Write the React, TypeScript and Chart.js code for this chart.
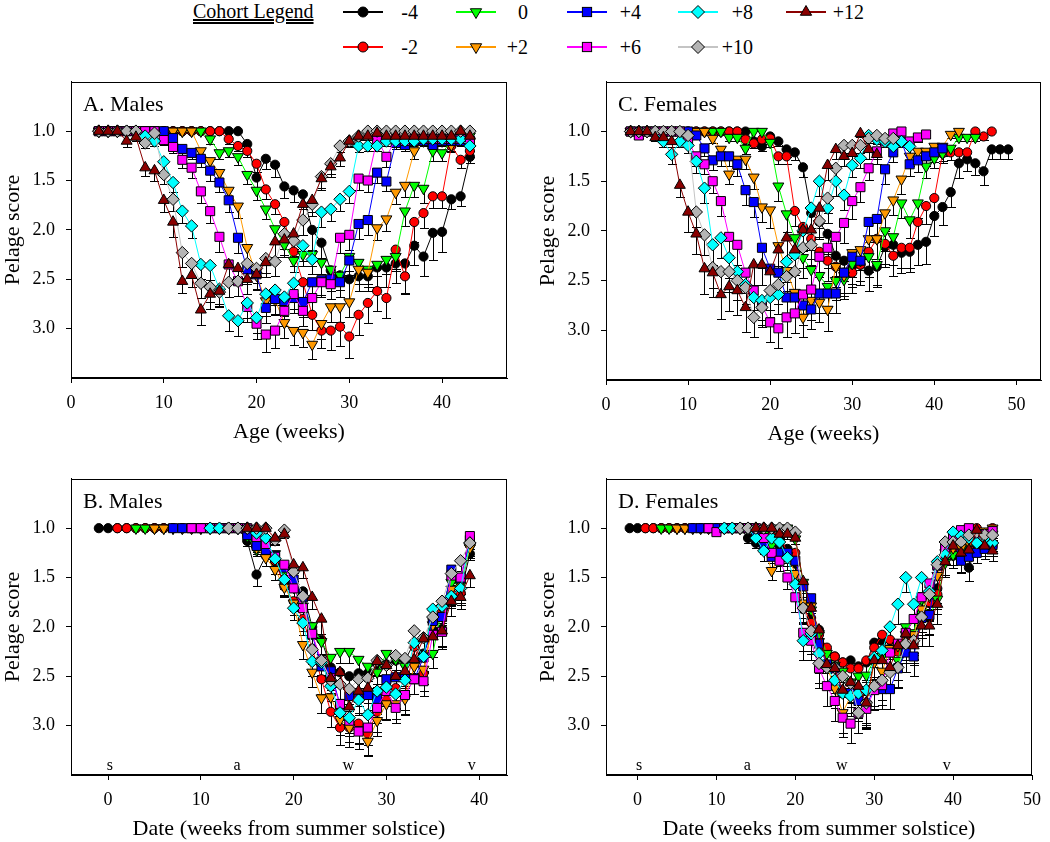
import React, { useEffect, useRef } from 'react';
import { Chart, registerables } from 'chart.js';

Chart.register(...registerables);

const FONT = '"Liberation Serif", "Times New Roman", Times, serif';

// ---------- cohorts ----------
const cohortLabels = ['-4', '-2', '0', '+2', '+4', '+6', '+8', '+10', '+12'];
const cohortOffsets = [-4, -2, 0, 2, 4, 6, 8, 10, 12];
const firstAge = 3;

// ---------- males: pelage score by age (weeks 3..43) ----------
const maleM4 = [1, 1, 1, 1, 1, 1, 1, 1, 1, 1, 1, 1, 1, 1, 1, 1, 1.13, 1.47, 1.28, 1.34, 1.56, 1.6, 1.64, 2.0, 2.13, 2.41, 2.46, 2.5, 2.47, 2.47, 2.38, 2.38, 2.34, 2.34, 2.16, 2.27, 2.03, 2.02, 1.69, 1.66, 1.26];
const maleM2 = [1, 1, 1, 1, 1, 1, 1, 1, 1, 1, 1, 1, 1, 1, 1.08, 1.15, 1.2, 1.33, 1.59, 1.74, 1.92, 2.22, 2.53, 2.86, 3.02, 3.02, 2.98, 3.08, 2.86, 2.74, 2.62, 2.69, 2.2, 2.47, 1.92, 1.83, 1.66, 1.66, 1.15, 1.29, 1.2];
const maleP0 = [1, 1, 1, 1, 1, 1, 1, 1, 1, 1, 1, 1, 1.08, 1.22, 1.2, 1.26, 1.44, 1.6, 1.79, 1.99, 2.15, 2.31, 2.25, 2.25, 2.33, 2.4, 2.46, 2.27, 2.33, 2.4, 2.35, 2.3, 2.27, 1.81, 1.55, 1.58, 1.2, 1.22, 1.1, 1.05, 1.05];
const maleP2 = [1, 1, 1, 1, 1, 1, 1, 1, 1, 1, 1, 1.2, 1.3, 1.42, 1.6, 1.76, 2.18, 2.46, 2.72, 2.71, 2.94, 3.02, 3.04, 3.16, 2.95, 2.78, 2.78, 2.73, 2.4, 2.43, 1.98, 1.89, 1.62, 1.55, 1.2, 1.1, 1.1, 1.1, 1.14, 1.05, 1.1];
const maleP4 = [1, 1, 1, 1, 1, 1, 1, 1, 1.07, 1.18, 1.22, 1.28, 1.4, 1.52, 1.7, 2.08, 2.4, 2.45, 2.79, 2.7, 2.72, 2.69, 2.73, 2.53, 2.51, 2.5, 2.53, 2.31, 1.94, 1.9, 1.42, 1.51, 1.12, 1.14, 1.1, 1.1, 1.14, 1.1, 1.1, 1.1, 1.1];
const maleP6 = [1, 1, 1, 1, 1, 1, 1, 1.09, 1.16, 1.29, 1.37, 1.61, 1.81, 2.07, 2.35, 2.52, 2.78, 2.95, 3.06, 3.02, 2.82, 2.65, 2.82, 2.69, 2.53, 2.55, 2.08, 2.05, 1.48, 1.5, 1.08, 1.26, 1.08, 1.1, 1.08, 1.08, 1.08, 1.08, 1.08, 1.08, 1.1];
const maleP8 = [1, 1, 1, 1, 1, 1.05, 1.1, 1.31, 1.52, 1.81, 1.96, 2.35, 2.36, 2.6, 2.87, 2.92, 2.74, 2.89, 2.65, 2.61, 2.68, 2.54, 2.16, 2.3, 1.82, 1.79, 1.69, 1.61, 1.15, 1.15, 1.15, 1.1, 1.1, 1.1, 1.1, 1.08, 1.08, 1.08, 1.08, 1.08, 1.15];
const maleP10 = [1, 1, 1, 1, 1, 1.12, 1.02, 1.44, 1.69, 2.23, 2.34, 2.54, 2.58, 2.63, 2.53, 2.52, 2.34, 2.39, 2.29, 2.32, 2.04, 2.11, 1.9, 1.74, 1.46, 1.33, 1.15, 1.1, 1.05, 1, 1, 1, 1, 1, 1, 1, 1, 1, 1, 1, 1];
const maleP12 = [1, 1, 1, 1.1, 1.06, 1.37, 1.4, 1.7, 1.92, 2.52, 2.46, 2.81, 2.65, 2.62, 2.35, 2.39, 2.5, 2.45, 2.33, 2.12, 2.1, 2.04, 1.74, 1.7, 1.48, 1.36, 1.27, 1.1, 1.05, 1.05, 1.02, 1.05, 1.05, 1.05, 1.05, 1.05, 1.05, 1.05, 1.05, 1.0, 1.05];

// males: standard errors
const maleErrM4 = [0, 0, 0, 0, 0, 0, 0, 0, 0, 0, 0, 0, 0, 0, 0, 0, 0.05, 0.12, 0.1, 0.12, 0.12, 0.12, 0.15, 0.2, 0.15, 0.15, 0.15, 0.2, 0.15, 0.15, 0.2, 0.2, 0.2, 0.3, 0.2, 0.2, 0.27, 0.2, 0.1, 0.1, 0.06];
const maleErrM2 = [0, 0, 0, 0, 0, 0, 0, 0, 0, 0, 0, 0, 0, 0, 0.05, 0.05, 0.06, 0.08, 0.1, 0.1, 0.12, 0.15, 0.15, 0.15, 0.18, 0.2, 0.2, 0.22, 0.2, 0.2, 0.2, 0.2, 0.2, 0.18, 0.2, 0.15, 0.12, 0.12, 0.06, 0.08, 0.06];
const maleErrP0 = [0, 0, 0, 0, 0, 0, 0, 0, 0, 0, 0, 0, 0.05, 0.06, 0.06, 0.08, 0.1, 0.1, 0.1, 0.12, 0.12, 0.12, 0.12, 0.12, 0.12, 0.15, 0.15, 0.15, 0.15, 0.15, 0.12, 0.15, 0.15, 0.15, 0.12, 0.15, 0.1, 0.08, 0.06, 0.05, 0.05];
const maleErrP2 = [0, 0, 0, 0, 0, 0, 0, 0, 0, 0, 0, 0.06, 0.08, 0.1, 0.1, 0.12, 0.15, 0.15, 0.15, 0.15, 0.15, 0.15, 0.15, 0.15, 0.15, 0.15, 0.15, 0.15, 0.15, 0.15, 0.12, 0.12, 0.12, 0.12, 0.08, 0.05, 0.05, 0.05, 0.06, 0.05, 0.05];
const maleErrP4 = [0, 0, 0, 0, 0, 0, 0, 0, 0.05, 0.06, 0.06, 0.08, 0.1, 0.1, 0.12, 0.15, 0.15, 0.15, 0.15, 0.15, 0.15, 0.15, 0.15, 0.15, 0.15, 0.12, 0.15, 0.15, 0.15, 0.15, 0.1, 0.1, 0.06, 0.06, 0.05, 0.05, 0.05, 0.05, 0.05, 0.05, 0.05];
const maleErrP6 = [0, 0, 0, 0, 0, 0, 0, 0.05, 0.06, 0.08, 0.1, 0.12, 0.12, 0.15, 0.15, 0.15, 0.15, 0.15, 0.18, 0.18, 0.15, 0.15, 0.15, 0.15, 0.15, 0.15, 0.15, 0.15, 0.12, 0.12, 0.06, 0.1, 0.05, 0.05, 0.05, 0.05, 0.05, 0.05, 0.05, 0.05, 0.05];
const maleErrP8 = [0, 0, 0, 0, 0, 0.04, 0.05, 0.1, 0.1, 0.12, 0.12, 0.15, 0.15, 0.15, 0.15, 0.15, 0.15, 0.15, 0.15, 0.15, 0.15, 0.15, 0.15, 0.15, 0.15, 0.12, 0.12, 0.12, 0.06, 0.05, 0.05, 0.05, 0.05, 0.05, 0.05, 0.05, 0.05, 0.05, 0.05, 0.05, 0.05];
const maleErrP10 = [0, 0, 0, 0, 0, 0.05, 0.02, 0.1, 0.12, 0.15, 0.15, 0.15, 0.15, 0.15, 0.15, 0.15, 0.15, 0.15, 0.15, 0.15, 0.15, 0.15, 0.15, 0.12, 0.12, 0.1, 0.06, 0.05, 0.04, 0, 0, 0, 0, 0, 0, 0, 0, 0, 0, 0, 0];
const maleErrP12 = [0, 0, 0, 0.06, 0.04, 0.08, 0.1, 0.12, 0.15, 0.12, 0.12, 0.15, 0.15, 0.15, 0.15, 0.15, 0.15, 0.15, 0.15, 0.15, 0.15, 0.15, 0.15, 0.12, 0.12, 0.1, 0.08, 0.06, 0.04, 0.04, 0.04, 0.04, 0.04, 0.04, 0.04, 0.04, 0.04, 0.04, 0.04, 0.04, 0.04];

// ---------- females: pelage score by age (weeks 3..) ----------
const femM4 = [1, 1, 1, 1, 1, 1, 1, 1, 1, 1, 1, 1, 1, 1, 1, 1.1, 1.15, 1.05, 1.1, 1.18, 1.21, 1.36, 1.82, 1.91, 2.03, 2.25, 2.3, 2.36, 2.34, 2.4, 2.36, 2.16, 2.14, 2.22, 2.21, 2.14, 2.11, 1.85, 1.76, 1.61, 1.32, 1.28, 1.32, 1.4, 1.18, 1.18, 1.18];
const femM2 = [1, 1, 1, 1, 1, 1, 1, 1, 1, 1, 1, 1, 1, 1, 1.08, 1.12, 1.08, 1.07, 1.25, 1.25, 1.8, 1.96, 2.08, 2.21, 2.3, 2.36, 2.42, 2.42, 2.34, 2.21, 2.08, 2.13, 2.25, 2.17, 2.17, 1.91, 1.75, 1.67, 1.22, 1.21, 1.21, 1.21, 1.0, 1.05, 1.0];
const femP0 = [1, 1, 1, 1, 1, 1, 1, 1, 1, 1, 1, 1, 1.06, 1.06, 1.17, 1.0, 1.0, 1.11, 1.55, 1.83, 2.07, 2.27, 2.39, 2.45, 2.56, 2.5, 2.49, 2.33, 2.3, 2.26, 2.34, 2.0, 2.06, 1.72, 1.89, 1.72, 1.35, 1.27, 1.22, 1.17, 1.06, 1.06, 1.06];
const femP2 = [1, 1, 1, 1, 1, 1, 1, 1, 1, 1, 1.07, 1.18, 1.43, 1.28, 1.28, 1.46, 1.76, 1.79, 2.15, 2.4, 2.62, 2.87, 2.7, 2.72, 2.79, 2.36, 2.45, 2.22, 2.19, 2.08, 2.08, 1.82, 1.69, 1.48, 1.25, 1.2, 1.2, 1.15, 1.15, 1.03, 1.0];
const femP4 = [1, 1, 1, 1, 1, 1, 1, 1, 1.04, 1.17, 1.29, 1.25, 1.25, 1.33, 1.59, 1.71, 2.17, 2.38, 2.42, 2.67, 2.67, 2.75, 2.79, 2.63, 2.63, 2.63, 2.42, 2.26, 2.3, 1.91, 1.88, 1.38, 1.21, 1.1, 1.33, 1.29, 1.25, 1.21, 1.17];
const femP6 = [1, 1.04, 1, 1, 1, 1, 1, 1.1, 1.25, 1.33, 1.5, 1.7, 2.06, 2.14, 2.42, 2.6, 2.75, 2.92, 2.98, 2.87, 2.83, 2.64, 2.59, 2.26, 2.17, 2.06, 1.92, 1.7, 1.56, 1.37, 1.2, 1.1, 1.02, 1.0, 1.1, 1.06, 1.03];
const femP8 = [1, 1, 1, 1, 1.1, 1.23, 1.1, 1.14, 1.3, 1.57, 2.14, 2.07, 2.27, 2.41, 2.54, 2.67, 2.7, 2.67, 2.64, 2.31, 2.24, 2.0, 1.77, 1.5, 1.77, 1.5, 1.64, 1.34, 1.27, 1.04, 1.08, 1.1, 1.15, 1.1, 1.15];
const femP10 = [1, 1, 1, 1, 1, 1, 1, 1.04, 1.81, 2.04, 2.37, 2.41, 2.41, 2.5, 2.57, 2.87, 2.77, 2.6, 2.54, 2.46, 2.41, 2.17, 2.14, 1.9, 1.67, 1.37, 1.14, 1.14, 1.14, 1.07, 1.04, 1.07, 1.07];
const femP12 = [1, 1, 1, 1.06, 1.06, 1.1, 1.54, 1.81, 2.03, 2.38, 2.42, 2.64, 2.56, 2.6, 2.77, 2.34, 2.34, 2.41, 2.19, 2.07, 2.19, 1.99, 1.99, 1.77, 1.34, 1.18, 1.25, 1.22, 1.02, 1.18, 1.23];

// females: standard errors
const femErrM4 = [0, 0, 0, 0, 0, 0, 0, 0, 0, 0, 0, 0, 0, 0, 0, 0.05, 0.05, 0.04, 0.05, 0.08, 0.08, 0.1, 0.15, 0.15, 0.2, 0.2, 0.2, 0.2, 0.2, 0.2, 0.2, 0.2, 0.2, 0.2, 0.2, 0.2, 0.22, 0.2, 0.18, 0.15, 0.15, 0.12, 0.12, 0.14, 0.1, 0.1, 0.1];
const femErrM2 = [0, 0, 0, 0, 0, 0, 0, 0, 0, 0, 0, 0, 0, 0, 0.05, 0.05, 0.05, 0.04, 0.08, 0.08, 0.15, 0.18, 0.2, 0.2, 0.2, 0.2, 0.2, 0.2, 0.2, 0.2, 0.2, 0.2, 0.2, 0.2, 0.2, 0.2, 0.18, 0.15, 0.1, 0.08, 0.08, 0.08, 0, 0.04, 0];
const femErrP0 = [0, 0, 0, 0, 0, 0, 0, 0, 0, 0, 0, 0, 0.04, 0.04, 0.06, 0, 0, 0.05, 0.15, 0.18, 0.2, 0.2, 0.2, 0.2, 0.2, 0.2, 0.2, 0.2, 0.2, 0.2, 0.2, 0.2, 0.2, 0.15, 0.18, 0.15, 0.12, 0.1, 0.08, 0.06, 0.04, 0.04, 0.04];
const femErrP2 = [0, 0, 0, 0, 0, 0, 0, 0, 0, 0, 0.05, 0.08, 0.1, 0.1, 0.1, 0.12, 0.15, 0.18, 0.2, 0.2, 0.2, 0.2, 0.2, 0.2, 0.22, 0.2, 0.2, 0.2, 0.2, 0.2, 0.2, 0.18, 0.15, 0.15, 0.1, 0.08, 0.08, 0.06, 0.06, 0.04, 0];
const femErrP4 = [0, 0, 0, 0, 0, 0, 0, 0, 0.04, 0.08, 0.1, 0.1, 0.1, 0.12, 0.15, 0.15, 0.2, 0.2, 0.2, 0.2, 0.2, 0.2, 0.2, 0.2, 0.2, 0.2, 0.2, 0.2, 0.2, 0.2, 0.2, 0.15, 0.1, 0.06, 0.12, 0.12, 0.1, 0.1, 0.08];
const femErrP6 = [0, 0.03, 0, 0, 0, 0, 0, 0.05, 0.1, 0.1, 0.12, 0.15, 0.18, 0.2, 0.2, 0.2, 0.2, 0.2, 0.2, 0.2, 0.2, 0.2, 0.2, 0.2, 0.2, 0.2, 0.2, 0.18, 0.15, 0.12, 0.08, 0.06, 0.03, 0, 0.05, 0.05, 0.04];
const femErrP8 = [0, 0, 0, 0, 0.06, 0.1, 0.06, 0.08, 0.12, 0.15, 0.2, 0.2, 0.2, 0.2, 0.2, 0.2, 0.2, 0.2, 0.2, 0.2, 0.2, 0.2, 0.2, 0.15, 0.15, 0.15, 0.15, 0.12, 0.1, 0.04, 0.05, 0.06, 0.08, 0.06, 0.08];
const femErrP10 = [0, 0, 0, 0, 0, 0, 0, 0.04, 0.15, 0.2, 0.2, 0.2, 0.2, 0.2, 0.2, 0.2, 0.2, 0.2, 0.2, 0.2, 0.2, 0.2, 0.2, 0.18, 0.15, 0.12, 0.08, 0.08, 0.08, 0.05, 0.04, 0.05, 0.05];
const femErrP12 = [0, 0, 0, 0.04, 0.05, 0.06, 0.12, 0.2, 0.2, 0.25, 0.25, 0.25, 0.25, 0.25, 0.25, 0.2, 0.2, 0.2, 0.2, 0.2, 0.2, 0.2, 0.2, 0.2, 0.15, 0.1, 0.1, 0.1, 0.04, 0.1, 0.1];

const maleScores = [maleM4, maleM2, maleP0, maleP2, maleP4, maleP6, maleP8, maleP10, maleP12];
const maleErrors = [maleErrM4, maleErrM2, maleErrP0, maleErrP2, maleErrP4, maleErrP6, maleErrP8, maleErrP10, maleErrP12];
const femScores = [femM4, femM2, femP0, femP2, femP4, femP6, femP8, femP10, femP12];
const femErrors = [femErrM4, femErrM2, femErrP0, femErrP2, femErrP4, femErrP6, femErrP8, femErrP10, femErrP12];

// ---------- axes ----------
const maleAgeTicks = [0, 10, 20, 30, 40];
const femAgeTicks = [0, 10, 20, 30, 40, 50];
const maleDateTicks = [0, 10, 20, 30, 40];
const femDateTicks = [0, 10, 20, 30, 40, 50];
const scoreTicks = [1.0, 1.5, 2.0, 2.5, 3.0];
const seasonLabels = ['s', 'a', 'w', 'v'];
const seasonWeeks = [0.2, 13.9, 25.9, 39.2];
const maleDateLimit = 39;

// ---------- styles ----------
const cohortStyles = [
  { line: '#000000', fill: '#000000', shape: 'circle', rot: 0, r: 4.6 },
  { line: '#ff0000', fill: '#ff0000', shape: 'circle', rot: 0, r: 4.6 },
  { line: '#00ff00', fill: '#00ff00', shape: 'triangle', rot: 180, r: 6.3 },
  { line: '#ff9900', fill: '#ff9900', shape: 'triangle', rot: 180, r: 6.3 },
  { line: '#0000ff', fill: '#0000ff', shape: 'rect', rot: 0, r: 6.4 },
  { line: '#ff00ff', fill: '#ff00ff', shape: 'rect', rot: 0, r: 6.4 },
  { line: '#00ffff', fill: '#00ffff', shape: 'rectRot', rot: 0, r: 6.2 },
  { line: '#c4c4c4', fill: '#b4b4b4', shape: 'rectRot', rot: 0, r: 6.2 },
  { line: '#8b0000', fill: '#8b0000', shape: 'triangle', rot: 0, r: 6.3 },
];

function makeDatasets(scores: number[][], errs: number[][], shift: boolean, maxX: number) {
  const out = scores.map((arr, i) => {
    const st = cohortStyles[i];
    const data: any[] = [];
    arr.forEach((v, j) => {
      const x = firstAge + j + (shift ? cohortOffsets[i] : 0);
      if (x <= maxX) data.push({ x, y: v, e: errs[i][j] ?? 0 });
    });
    return {
      label: cohortLabels[i],
      data,
      borderColor: st.line,
      borderWidth: 1,
      backgroundColor: st.fill,
      pointBackgroundColor: st.fill,
      pointBorderColor: '#000000',
      pointBorderWidth: 1,
      pointStyle: st.shape,
      pointRotation: st.rot,
      pointRadius: st.r,
      pointHoverRadius: st.r,
      tension: 0,
      fill: false,
    };
  });
  return out.reverse();
}

const decorPlugin = {
  id: 'panelDecor',
  beforeDatasetsDraw(chart: any) {
    const ctx = chart.ctx;
    const ys = chart.scales.y;
    ctx.save();
    ctx.strokeStyle = '#000';
    ctx.lineWidth = 1;
    ctx.beginPath();
    chart.data.datasets.forEach((ds: any, i: number) => {
      const meta = chart.getDatasetMeta(i);
      meta.data.forEach((el: any, j: number) => {
        const raw = ds.data[j];
        if (!raw || !raw.e) return;
        const x = Math.round(el.x) + 0.5;
        const y2 = Math.round(ys.getPixelForValue(raw.y + raw.e)) + 0.5;
        ctx.moveTo(x, el.y);
        ctx.lineTo(x, y2);
        ctx.moveTo(x - 4.5, y2);
        ctx.lineTo(x + 4.5, y2);
      });
    });
    ctx.stroke();
    ctx.restore();
  },
  afterDraw(chart: any, _args: any, opts: any) {
    const { ctx, chartArea: a } = chart;
    ctx.save();
    ctx.strokeStyle = '#000';
    ctx.lineWidth = 1;
    ctx.strokeRect(Math.round(a.left) + 0.5, Math.round(a.top) + 0.5, Math.round(a.right - a.left) - 1, Math.round(a.bottom - a.top) - 1);
    ctx.fillStyle = '#000';
    ctx.font = `22px ${FONT}`;
    ctx.textAlign = 'left';
    ctx.textBaseline = 'alphabetic';
    ctx.fillText(opts.title, a.left + 12, a.top + 29);
    if (opts.seasons) {
      ctx.font = `16px ${FONT}`;
      ctx.textAlign = 'center';
      ctx.textBaseline = 'middle';
      seasonLabels.forEach((s, k) => {
        ctx.fillText(s, chart.scales.x.getPixelForValue(seasonWeeks[k]), a.bottom - 9);
      });
    }
    ctx.restore();
  },
};

type Area = { l: number; t: number; r: number; b: number };

function Panel(props: { area: Area; padRight: number; xMin: number; xMax: number; xTicks: number[]; title: string; xTitle: string; datasets: any[]; seasons: boolean }) {
  const ref = useRef<HTMLCanvasElement>(null);
  const { area, padRight } = props;
  const padTop = 13;
  const yAxisW = 71;
  const xAxisH = 67;
  const left = area.l - yAxisW;
  const top = area.t - padTop;
  const width = area.r - left + padRight;
  const height = area.b - top + xAxisH;

  useEffect(() => {
    const tickFont = { family: FONT, size: 18 };
    const titleFont = { family: FONT, size: 22 };
    let alive = true;
    const chart = new Chart(ref.current as HTMLCanvasElement, {
      type: 'line',
      data: { datasets: props.datasets },
      options: {
        animation: false,
        responsive: false,
        maintainAspectRatio: false,
        layout: { padding: { top: padTop, right: padRight, left: 0, bottom: 0 } },
        plugins: {
          legend: { display: false },
          tooltip: { enabled: false },
          panelDecor: { title: props.title, seasons: props.seasons },
        } as any,
        scales: {
          x: {
            type: 'linear',
            min: props.xMin,
            max: props.xMax,
            afterBuildTicks: (s: any) => {
              s.ticks = props.xTicks.map((v) => ({ value: v }));
            },
            afterFit: (s: any) => {
              s.height = xAxisH;
            },
            grid: { drawOnChartArea: false, drawTicks: true, tickLength: 5, color: '#000', tickColor: '#000' },
            border: { display: true, color: '#000', width: 1 },
            ticks: { color: '#000', font: tickFont, padding: 9, maxRotation: 0, autoSkip: false, callback: (v: any) => String(v) },
            title: { display: true, text: props.xTitle, color: '#000', font: titleFont, padding: 0 },
          },
          y: {
            type: 'linear',
            reverse: true,
            min: 0.5,
            max: 3.5,
            afterBuildTicks: (s: any) => {
              s.ticks = scoreTicks.map((v) => ({ value: v }));
            },
            afterFit: (s: any) => {
              s.width = yAxisW;
            },
            grid: { drawOnChartArea: false, drawTicks: true, tickLength: 5, color: '#000', tickColor: '#000' },
            border: { display: true, color: '#000', width: 1 },
            ticks: { color: '#000', font: tickFont, padding: 11, autoSkip: false, callback: (v: any) => Number(v).toFixed(1) },
            title: { display: true, text: 'Pelage score', color: '#000', font: titleFont, padding: 0 },
          },
        },
      } as any,
      plugins: [decorPlugin as any],
    });
    const fonts = (document as any).fonts;
    if (fonts && fonts.load) {
      Promise.all([
        fonts.load('18px "Liberation Serif"'),
        fonts.load('22px "Liberation Serif"'),
        fonts.load('16px "Liberation Serif"'),
      ]).then(() => {
        if (alive) chart.update();
      }, () => {});
    }
    return () => {
      alive = false;
      chart.destroy();
    };
  }, []);

  return (
    <canvas
      ref={ref}
      width={width}
      height={height}
      style={{ position: 'absolute', left, top, width, height }}
    />
  );
}

// ---------- legend ----------
const legendMarkerX = [363, 476, 587, 698, 806];
const legendLabelRight = [418, 528, 641, 753, 864];
const legendRowY = [12, 47];

function LegendMarker({ i }: { i: number }) {
  const st = cohortStyles[i];
  const cx = 22;
  const cy = 9;
  let shape: any = null;
  if (st.shape === 'circle') {
    shape = <circle cx={cx} cy={cy} r={5} fill={st.fill} stroke="#000" strokeWidth={1} />;
  } else if (st.shape === 'triangle') {
    const r = 6.5;
    const dx = r * Math.sin((2 * Math.PI) / 3);
    const dy = r * 0.5;
    const pts = st.rot === 180
      ? `${cx},${cy + r} ${cx - dx},${cy - dy} ${cx + dx},${cy - dy}`
      : `${cx},${cy - r} ${cx + dx},${cy + dy} ${cx - dx},${cy + dy}`;
    shape = <polygon points={pts} fill={st.fill} stroke="#000" strokeWidth={1} />;
  } else if (st.shape === 'rect') {
    const s = 4.6;
    shape = <rect x={cx - s} y={cy - s} width={2 * s} height={2 * s} fill={st.fill} stroke="#000" strokeWidth={1} />;
  } else {
    const r = 6.5;
    shape = <polygon points={`${cx},${cy - r} ${cx + r},${cy} ${cx},${cy + r} ${cx - r},${cy}`} fill={st.fill} stroke="#000" strokeWidth={1} />;
  }
  return (
    <svg width={44} height={18} style={{ position: 'absolute', left: -22, top: -9, overflow: 'visible' }}>
      <line x1={2} y1={cy} x2={42} y2={cy} stroke={st.line} strokeWidth={2} />
      {shape}
    </svg>
  );
}

function Legend() {
  return (
    <div style={{ position: 'absolute', left: 0, top: 0, width: 1050, height: 60 }}>
      <div
        style={{
          position: 'absolute',
          left: 193,
          top: legendRowY[0] - 12,
          fontFamily: FONT,
          fontSize: 20,
          lineHeight: '22px',
          textDecoration: 'underline double',
          whiteSpace: 'nowrap',
        }}
      >
        Cohort Legend
      </div>
      {cohortLabels.map((lab, i) => {
        const col = Math.floor(i / 2);
        const row = i % 2;
        const y = legendRowY[row];
        return (
          <React.Fragment key={lab}>
            <div style={{ position: 'absolute', left: legendMarkerX[col], top: y, width: 0, height: 0 }}>
              <LegendMarker i={i} />
            </div>
            <div
              style={{
                position: 'absolute',
                left: legendLabelRight[col] - 50,
                width: 50,
                top: y - 12,
                textAlign: 'right',
                fontFamily: FONT,
                fontSize: 20,
                lineHeight: '24px',
                whiteSpace: 'nowrap',
              }}
            >
              {lab}
            </div>
          </React.Fragment>
        );
      })}
    </div>
  );
}

export default function App() {
  const dsA = makeDatasets(maleScores, maleErrors, false, 1000);
  const dsB = makeDatasets(maleScores, maleErrors, true, maleDateLimit);
  const dsC = makeDatasets(femScores, femErrors, false, 1000);
  const dsD = makeDatasets(femScores, femErrors, true, 1000);
  return (
    <div style={{ position: 'absolute', left: 0, top: 0, width: 1050, height: 842, overflow: 'hidden', background: '#fff' }}>
      <Legend />
      <Panel area={{ l: 71, t: 73, r: 507, b: 378 }} padRight={18} xMin={0} xMax={47} xTicks={maleAgeTicks} title="A. Males" xTitle="Age (weeks)" datasets={dsA} seasons={false} />
      <Panel area={{ l: 606, t: 73, r: 1041, b: 380 }} padRight={9} xMin={0} xMax={53} xTicks={femAgeTicks} title="C. Females" xTitle="Age (weeks)" datasets={dsC} seasons={false} />
      <Panel area={{ l: 71, t: 470, r: 507, b: 775 }} padRight={18} xMin={-4} xMax={43} xTicks={maleDateTicks} title="B. Males" xTitle="Date (weeks from summer solstice)" datasets={dsB} seasons={true} />
      <Panel area={{ l: 606, t: 470, r: 1041, b: 775 }} padRight={9} xMin={-4} xMax={50} xTicks={femDateTicks} title="D. Females" xTitle="Date (weeks from summer solstice)" datasets={dsD} seasons={true} />
    </div>
  );
}
